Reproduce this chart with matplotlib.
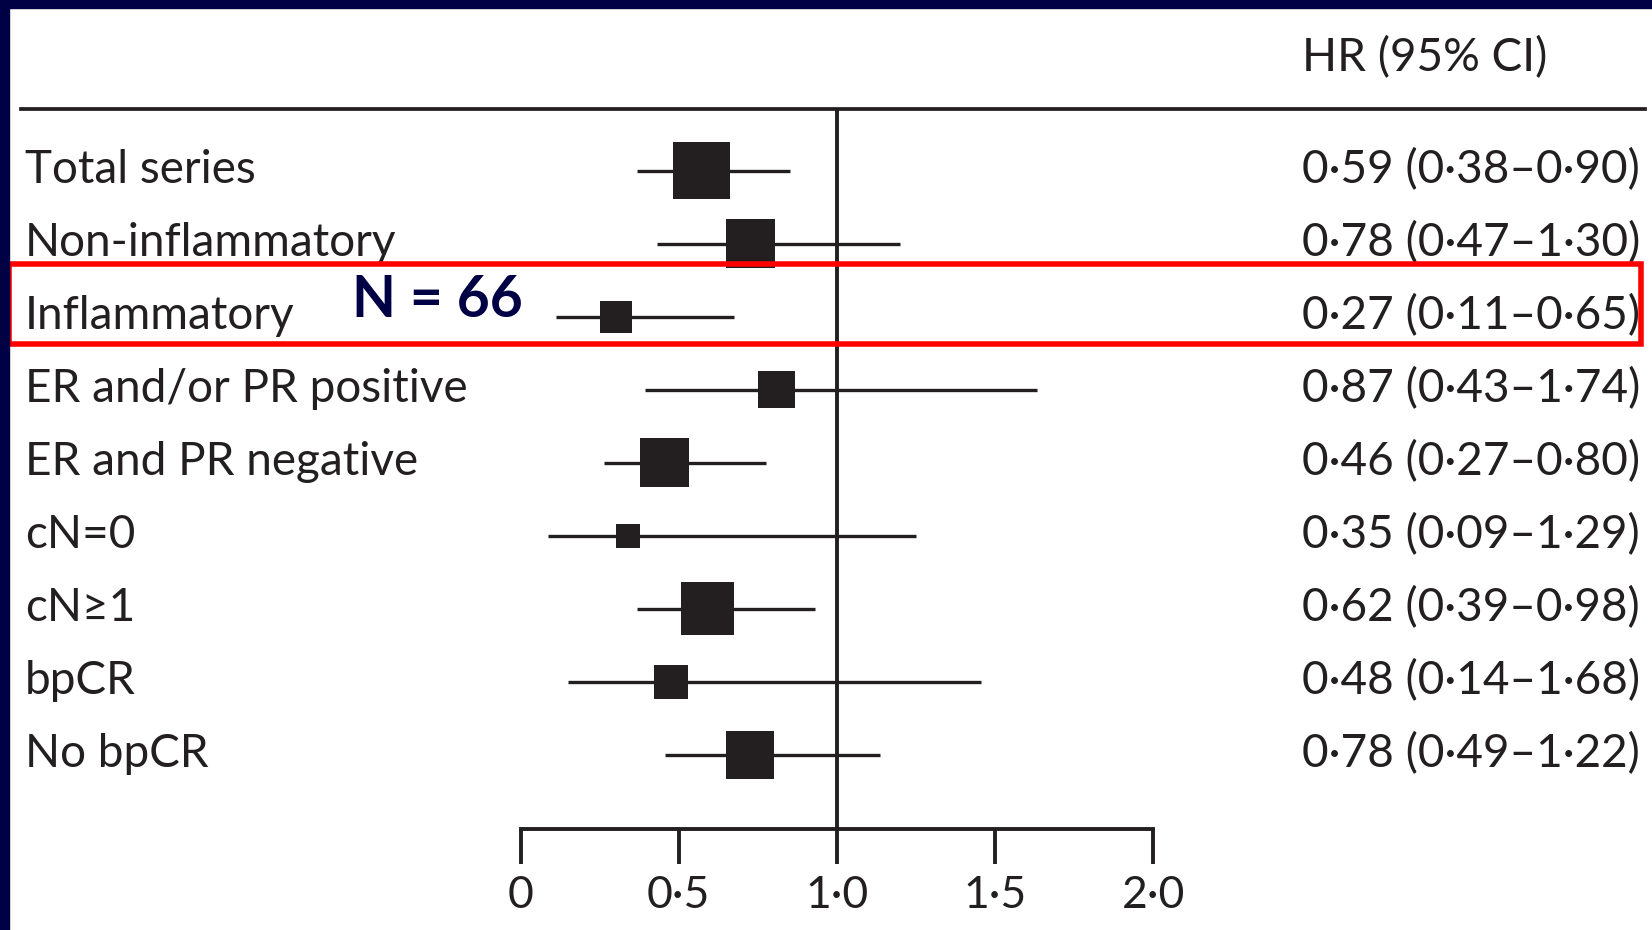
import numpy as np
import matplotlib
matplotlib.use("Agg")
import matplotlib.pyplot as plt
from matplotlib import transforms
from matplotlib.patches import Rectangle
from matplotlib.lines import Line2D

plt.rcParams['font.family'] = ['Lato', 'DejaVu Sans']

# subgroups, top to bottom
labels = ['Total series', 'Non-inflammatory', 'Inflammatory',
          'ER and/or PR positive', 'ER and PR negative', 'cN=0', 'cN≥1',
          'bpCR', 'No bpCR']
hr_text = ['0·59 (0·38–0·90)', '0·78 (0·47–1·30)', '0·27 (0·11–0·65)',
           '0·87 (0·43–1·74)', '0·46 (0·27–0·80)', '0·35 (0·09–1·29)',
           '0·62 (0·39–0·98)', '0·48 (0·14–1·68)', '0·78 (0·49–1·22)']
# positions of the squares and whiskers as drawn in the figure
hr = [0.572, 0.726, 0.303, 0.809, 0.456, 0.341, 0.591, 0.476, 0.726]
ci_lo = [0.368, 0.431, 0.112, 0.393, 0.264, 0.086, 0.368, 0.150, 0.456]
ci_hi = [0.852, 1.200, 0.676, 1.633, 0.776, 1.250, 0.931, 1.456, 1.137]
weight = [57, 49, 32, 37, 49, 24, 53, 34, 48]   # relative box size
xticks = [0, 0.5, 1.0, 1.5, 2.0]
xtick_labels = ['0', '0·5', '1·0', '1·5', '2·0']

W, H = 1652, 930
ink = '#231F20'
navy = '#000044'

fig = plt.figure(figsize=(W / 100, H / 100), dpi=100)
fig.patch.set_facecolor('white')

ax = fig.add_axes([520.6 / W, 1 - 828.7 / H, 632.5 / W, 720 / H])
ax.set_xlim(0, 2)
ax.set_ylim(9.0096, -0.8534)
ax.patch.set_visible(False)

y = np.arange(len(labels))
ax.hlines(y, ci_lo, ci_hi, color=ink, lw=2.4, zorder=2)
ax.scatter(hr, y, marker='s', s=(np.array(weight) * 0.72) ** 2,
           color=ink, linewidths=0, zorder=3)
ax.axvline(1.0, color=ink, lw=2.8, zorder=1)

for side in ['top', 'right', 'left']:
    ax.spines[side].set_visible(False)
ax.spines['bottom'].set_bounds(0, 2)
ax.spines['bottom'].set_linewidth(2.8)
ax.spines['bottom'].set_color(ink)
ax.set_yticks([])
ax.set_xticks(xticks)
ax.set_xticklabels(xtick_labels)
ax.tick_params(axis='x', direction='out', length=25, width=2.8, color=ink,
               pad=8, labelsize=32, labelcolor=ink)

# text columns
tr = transforms.blended_transform_factory(fig.transFigure, ax.transData)
for yi, lab, txt in zip(y, labels, hr_text):
    ax.text(25 / W, yi + 0.16, lab, transform=tr, fontsize=33, color=ink,
            va='baseline', ha='left')
    ax.text(1302 / W, yi + 0.16, txt, transform=tr, fontsize=33, color=ink,
            va='baseline', ha='left')

fig.text(1302 / W, 1 - 71 / H, 'HR (95% CI)', fontsize=33, color=ink,
         va='baseline', ha='left')
ax.text(351.7 / W, 2.0, 'N = 66', transform=tr, fontsize=41,
        fontweight='bold', color=navy, va='baseline', ha='left')

# header rule
fig.add_artist(Line2D([21 / W, 1645 / W], [1 - 108.7 / H] * 2,
                      color=ink, lw=2.7, transform=fig.transFigure))

# red highlight box around the inflammatory row
fig.add_artist(Rectangle((8.6 / W, 1 - 344 / H), 1632.4 / W, 80 / H,
                         fill=False, edgecolor='#FF0000', lw=4,
                         transform=fig.transFigure, zorder=5))

# navy slide frame
fig.add_artist(Rectangle((0, 0), 9 / W, 1, color=navy,
                         transform=fig.transFigure, zorder=6))
fig.add_artist(Rectangle((0, 1 - 8 / H), 1, 8 / H, color=navy,
                         transform=fig.transFigure, zorder=6))

fig.savefig('out.png', dpi=100)
